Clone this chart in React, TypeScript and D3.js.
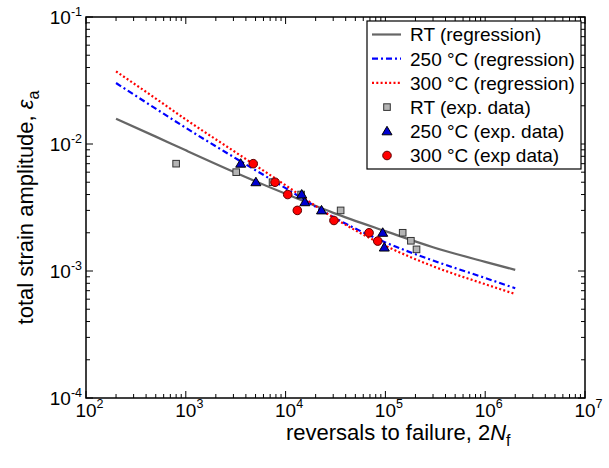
import React from "react";
import * as d3 from "d3";

// ---- data ----
const regN = [200, 500, 1000, 3000, 10000, 30000, 100000, 300000, 1000000, 2000000];
const rtReg = [0.0158, 0.01143, 0.00891, 0.00605, 0.00405, 0.00287, 0.00206, 0.00154, 0.00118, 0.00102];
const c250Reg = [0.0302, 0.01897, 0.0134, 0.00791, 0.00449, 0.00266, 0.00168, 0.00121, 0.000881, 0.000731];
const c300Reg = [0.0373, 0.0228, 0.0156, 0.00883, 0.00473, 0.00264, 0.00158, 0.00109, 0.000787, 0.000659];

const rtN = [800, 3200, 7400, 14300, 35600, 149000, 180000, 205000];
const rtEps = [0.007, 0.006, 0.005, 0.004, 0.003, 0.002, 0.00173, 0.00148];
const c250N = [3550, 5040, 14500, 15600, 22900, 94000, 97500];
const c250Eps = [0.007, 0.005, 0.004, 0.00348, 0.003, 0.002, 0.00153];
const c300N = [4740, 7840, 10500, 13100, 30500, 68600, 83800];
const c300Eps = [0.007, 0.005, 0.004, 0.003, 0.0025, 0.002, 0.00172];

const xDecades = [2, 3, 4, 5, 6, 7];
const yDecades = [-4, -3, -2, -1];
const legendLabels = [
  "RT (regression)",
  "250 \u00B0C (regression)",
  "300 \u00B0C (regression)",
  "RT (exp. data)",
  "250 \u00B0C (exp. data)",
  "300 \u00B0C (exp data)",
];

const W = 609, H = 468;
const L = 86, R = 585, T = 17, B = 398;
const FONT = "'Liberation Sans', Arial, Helvetica, sans-serif";

export default function App() {
  const x = d3.scaleLog().domain([1e2, 1e7]).range([L, R]);
  const y = d3.scaleLog().domain([1e-4, 1e-1]).range([B, T]);

  const line = d3
    .line<[number, number]>()
    .x((d) => x(d[0]))
    .y((d) => y(d[1]))
    .curve(d3.curveMonotoneX);

  const mk = (vals: number[]) => line(regN.map((n, i) => [n, vals[i]] as [number, number])) || "";

  const xMinor: number[] = [];
  for (let d = 2; d < 7; d++) for (let k = 2; k <= 9; k++) xMinor.push(k * Math.pow(10, d));
  const yMinor: number[] = [];
  for (let d = -4; d < -1; d++) for (let k = 2; k <= 9; k++) yMinor.push(k * Math.pow(10, d));

  const MAJ = 7, MIN = 4;

  const square = (cx: number, cy: number, key: string) => (
    <rect key={key} x={cx - 3.3} y={cy - 3.3} width={6.6} height={6.6} fill="#b4b4b4" stroke="#333" strokeWidth={1} />
  );
  const tri = (cx: number, cy: number, key: string) => (
    <path
      key={key}
      d={`M${cx},${cy - 5} L${cx + 5},${cy + 3.5} L${cx - 5},${cy + 3.5} Z`}
      fill="#0000d0"
      stroke="#000"
      strokeWidth={1}
    />
  );
  const circ = (cx: number, cy: number, key: string) => (
    <circle key={key} cx={cx} cy={cy} r={4.3} fill="#ff0000" stroke="#600000" strokeWidth={1} />
  );

  const legX = 367, legY = 21, legW = 214, legH = 148;
  const rowY = (i: number) => 34.5 + i * 24.2;

  return (
    <svg
      width={W}
      height={H}
      style={{ position: "absolute", left: 0, top: 0, background: "#fff" }}
      fontFamily={FONT}
    >
      <rect x={0} y={0} width={W} height={H} fill="#fff" />
      {/* regression lines */}
      <path d={mk(rtReg)} fill="none" stroke="#666" strokeWidth={2.2} />
      <path d={mk(c250Reg)} fill="none" stroke="#0000ff" strokeWidth={2.2} strokeDasharray="6,3,2,3" />
      <path d={mk(c300Reg)} fill="none" stroke="#ff0000" strokeWidth={2.2} strokeDasharray="2,2.3" />

      {/* data */}
      {rtN.map((n, i) => square(x(n), y(rtEps[i]), "s" + i))}
      {c250N.map((n, i) => tri(x(n), y(c250Eps[i]), "t" + i))}
      {c300N.map((n, i) => circ(x(n), y(c300Eps[i]), "c" + i))}

      {/* frame & ticks */}
      <g stroke="#000" strokeWidth={1}>
        {xDecades.map((d) => {
          const px = x(Math.pow(10, d));
          return (
            <g key={"xm" + d}>
              <line x1={px} x2={px} y1={B} y2={B - MAJ} />
              <line x1={px} x2={px} y1={T} y2={T + MAJ} />
            </g>
          );
        })}
        {xMinor.map((v, i) => {
          const px = x(v);
          return (
            <g key={"xn" + i}>
              <line x1={px} x2={px} y1={B} y2={B - MIN} />
              <line x1={px} x2={px} y1={T} y2={T + MIN} />
            </g>
          );
        })}
        {yDecades.map((d) => {
          const py = y(Math.pow(10, d));
          return (
            <g key={"ym" + d}>
              <line x1={L} x2={L + MAJ} y1={py} y2={py} />
              <line x1={R} x2={R - MAJ} y1={py} y2={py} />
            </g>
          );
        })}
        {yMinor.map((v, i) => {
          const py = y(v);
          return (
            <g key={"yn" + i}>
              <line x1={L} x2={L + MIN} y1={py} y2={py} />
              <line x1={R} x2={R - MIN} y1={py} y2={py} />
            </g>
          );
        })}
      </g>
      <rect x={L} y={T} width={R - L} height={B - T} fill="none" stroke="#000" strokeWidth={1.5} />

      {/* tick labels */}
      {xDecades.map((d) => {
        const px = x(Math.pow(10, d));
        return (
          <text key={"xl" + d} x={px + 3.5} y={417} fontSize={19} textAnchor="middle">
            10<tspan fontSize={12.5} dy={-9}>{String(d)}</tspan>
          </text>
        );
      })}
      {yDecades.map((d) => {
        const py = y(Math.pow(10, d));
        return (
          <text key={"yl" + d} x={82} y={py + 7} fontSize={19} textAnchor="end">
            10<tspan fontSize={12.5} dy={-8}>{"-" + Math.abs(d)}</tspan>
          </text>
        );
      })}

      {/* axis labels */}
      <text x={286} y={440} fontSize={22}>
        reversals to failure, 2<tspan fontStyle="italic">N</tspan>
        <tspan fontSize={16} dy={6}>f</tspan>
      </text>
      <text transform={`translate(33,${(T + B) / 2}) rotate(-90)`} fontSize={22} textAnchor="middle">
        total strain amplitude, <tspan fontStyle="italic">{"\u03B5"}</tspan>
        <tspan fontSize={16} dy={6}>a</tspan>
      </text>

      {/* legend */}
      <rect x={legX} y={legY} width={legW} height={legH} fill="#fff" stroke="#000" strokeWidth={1.2} />
      <line x1={372} x2={401} y1={rowY(0)} y2={rowY(0)} stroke="#666" strokeWidth={2.2} />
      <line x1={372} x2={401} y1={rowY(1)} y2={rowY(1)} stroke="#0000ff" strokeWidth={2.2} strokeDasharray="6,3,2,3" />
      <line x1={372} x2={401} y1={rowY(2)} y2={rowY(2)} stroke="#ff0000" strokeWidth={2.2} strokeDasharray="2,2.3" />
      {square(387, rowY(3), "ls")}
      {tri(387, rowY(4), "lt")}
      {circ(387, rowY(5), "lc")}
      {legendLabels.map((t, i) => (
        <text key={"lg" + i} x={410} y={rowY(i) + 6.8} fontSize={19}>
          {t}
        </text>
      ))}
    </svg>
  );
}
